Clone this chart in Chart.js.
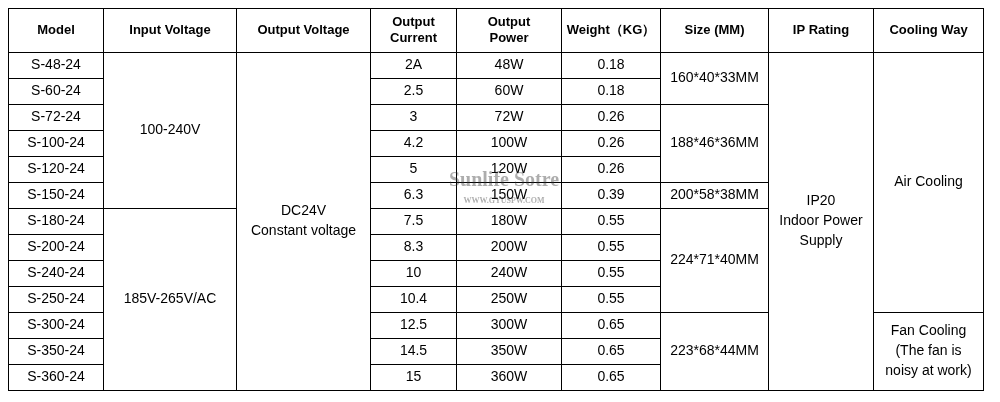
<!DOCTYPE html>
<html lang="en">
<head>
  <meta charset="UTF-8">
  <script src="https://cdn.jsdelivr.net/npm/chart.js"></script>
  <title>S-series 24V power supply table</title>
  <style>
    html, body { margin: 0; padding: 0; background: #fff; }
    #wrap { width: 1000px; height: 402px; }
  </style>
</head>
<body>
  <div id="wrap"><canvas id="tableChart"></canvas></div>
  <script>
    // table data
    const headers = ['Model', 'Input Voltage', 'Output Voltage', 'Output\nCurrent', 'Output\nPower', 'Weight（KG）', 'Size (MM)', 'IP Rating', 'Cooling Way'];
    const models = ['S-48-24', 'S-60-24', 'S-72-24', 'S-100-24', 'S-120-24', 'S-150-24', 'S-180-24', 'S-200-24', 'S-240-24', 'S-250-24', 'S-300-24', 'S-350-24', 'S-360-24'];
    const currents = ['2A', '2.5', '3', '4.2', '5', '6.3', '7.5', '8.3', '10', '10.4', '12.5', '14.5', '15'];
    const powers = ['48W', '60W', '72W', '100W', '120W', '150W', '180W', '200W', '240W', '250W', '300W', '350W', '360W'];
    const weights = ['0.18', '0.18', '0.26', '0.26', '0.26', '0.39', '0.55', '0.55', '0.55', '0.55', '0.65', '0.65', '0.65'];
    // merged groups: [firstRow, lastRow, text]
    const inputGroups = [[0, 5, '100-240V'], [6, 12, '185V-265V/AC']];
    const outputGroups = [[0, 12, 'DC24V\nConstant voltage']];
    const sizeGroups = [[0, 1, '160*40*33MM'], [2, 4, '188*46*36MM'], [5, 5, '200*58*38MM'], [6, 9, '224*71*40MM'], [10, 12, '223*68*44MM']];
    const ipGroups = [[0, 12, 'IP20\nIndoor Power\nSupply']];
    const coolingGroups = [[0, 9, 'Air Cooling'], [10, 12, 'Fan Cooling\n(The fan is\nnoisy at work)']];

    // layout (scale units)
    const colEdges = [0, 95, 228, 362, 448, 553, 652, 760, 865, 975];
    const headerH = 1.68;
    const rowCount = models.length;

    function single(arr) { return arr.map((t, i) => [i, i, t]); }
    const columns = [single(models), inputGroups, outputGroups, single(currents), single(powers), single(weights), sizeGroups, ipGroups, coolingGroups];

    const tablePlugin = {
      id: 'tablePlugin',
      afterDraw(chart) {
        const ctx = chart.ctx, xs = chart.scales.x, ys = chart.scales.y;
        const X = v => xs.getPixelForValue(v);
        const Y = v => ys.getPixelForValue(v);
        const rowTop = r => headerH + r;
        ctx.save();
        ctx.strokeStyle = '#000';
        ctx.lineWidth = 1;
        ctx.fillStyle = '#000';
        ctx.textAlign = 'center';
        ctx.textBaseline = 'middle';
        function cell(x0, x1, y0, y1, text, font, lh) {
          const px0 = Math.round(X(x0)) + 0.5, px1 = Math.round(X(x1)) + 0.5;
          const py0 = Math.round(Y(y0)) + 0.5, py1 = Math.round(Y(y1)) + 0.5;
          ctx.strokeRect(px0, py0, px1 - px0, py1 - py0);
          ctx.font = font;
          const lines = text.split('\n');
          const cx = (px0 + px1) / 2, cy = (py0 + py1) / 2;
          lines.forEach((l, i) => ctx.fillText(l, cx, cy + (i - (lines.length - 1) / 2) * lh));
        }
        headers.forEach((h, c) => cell(colEdges[c], colEdges[c + 1], 0, headerH, h, 'bold 13px "Liberation Sans", Arial', 16));
        columns.forEach((groups, c) => {
          groups.forEach(g => cell(colEdges[c], colEdges[c + 1], rowTop(g[0]), rowTop(g[1] + 1), g[2], '14px "Liberation Sans", Arial', 20));
        });
        // watermark
        ctx.globalAlpha = 0.4;
        ctx.fillStyle = '#333';
        ctx.font = 'bold 20px "Liberation Serif", serif';
        ctx.fillText('Sunlife Sotre', X(496), Y(rowTop(4.95)));
        ctx.font = 'bold 8px "Liberation Serif", serif';
        ctx.fillText('WWW.GYUSPW.COM', X(496), Y(rowTop(5.75)));
        ctx.restore();
      }
    };

    window.onload = function() {
      new Chart(document.getElementById('tableChart'), {
        type: 'scatter',
        data: {
          datasets: [{
            data: models.map((m, i) => ({ x: colEdges[0], y: headerH + i + 0.5 })),
            pointRadius: 0
          }]
        },
        options: {
          responsive: true,
          maintainAspectRatio: false,
          animation: false,
          layout: { padding: { left: 8, right: 17, top: 8, bottom: 12 } },
          plugins: { legend: { display: false }, tooltip: { enabled: false } },
          scales: {
            x: { type: 'linear', min: 0, max: colEdges[colEdges.length - 1], display: false },
            y: { type: 'linear', min: 0, max: headerH + rowCount, reverse: true, display: false }
          }
        },
        plugins: [tablePlugin]
      });
    };
  </script>
</body>
</html>
